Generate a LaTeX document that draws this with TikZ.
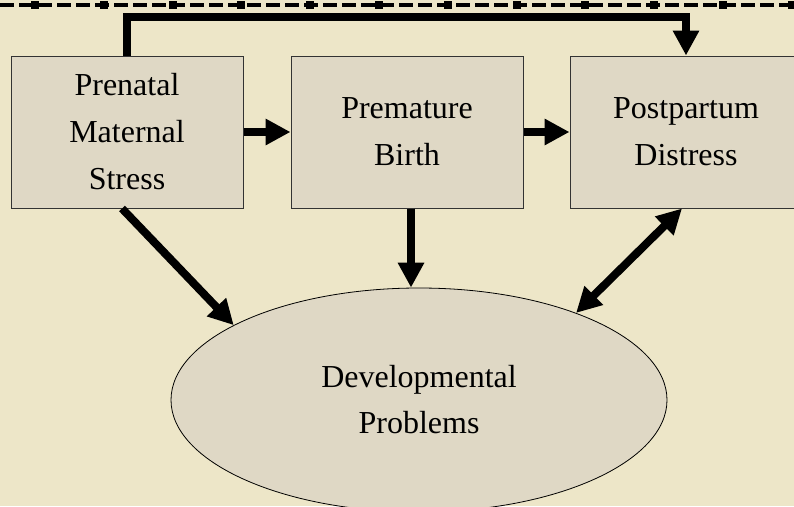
\documentclass[tikz,border=0pt]{standalone}
\usepackage{fontspec}
\setmainfont{Liberation Serif}
\usepackage{tikz}
\usetikzlibrary{arrows.meta}
\usetikzlibrary{calc}
\usetikzlibrary{shapes.geometric}
\definecolor{paper}{HTML}{EDE6C8}
\definecolor{boxfill}{HTML}{DFD8C5}
\begin{document}
\begin{tikzpicture}[
    x=1pt, y=-1pt,
    box/.style={draw=black!80, fill=boxfill, line width=1pt, minimum width=232pt, minimum height=152pt, inner sep=0pt, align=center, font=\fontsize{32}{47}\selectfont},
    oval/.style={ellipse, draw=black, fill=boxfill, line width=0.8pt, minimum width=496pt, minimum height=224pt, inner sep=0pt, align=center, font=\fontsize{32}{46}\selectfont},
    fat arrow/.style={line width=8pt, -{Triangle[length=25pt, width=25pt]}},
    fat both/.style={line width=8pt, {Triangle[length=25pt, width=25pt]}-{Triangle[length=25pt, width=25pt]}},
    dashed rule/.style={line width=3.5pt, dash pattern=on 14pt off 5pt},
    stud/.style={fill=black, minimum size=8pt, inner sep=0pt}
    ]

    % page
    \fill[paper] (0,0) rectangle (794,506);
    \useasboundingbox (0,0) rectangle (794,506);
    % top rule
    \draw[dashed rule] (0,5) -- (794,5);
    \foreach \i in {0,...,11}
        \node[stud] at ({35+68.8*\i},5) {};
    % boxes
    \node[box] (pms) at (127,132) {Prenatal\\Maternal\\Stress};
    \node[box] (pb) at (407,132) {Premature\\Birth};
    \node[box] (pd) at (686,132) {Postpartum\\Distress};
    \node[oval] (dev) at (419,400) {Developmental\\Problems};
    % arrows
    \draw[fat arrow] (pms) -- (pb);
    \draw[fat arrow] (pb) -- (pd);
    \draw[fat arrow] (pms.north) -- ++(0,-39) -| (pd.north);
    \draw[fat arrow] ([xshift=-5pt]pms.south) -- (dev.158);
    \draw[fat arrow] ([xshift=4pt]pb.south) -- ([xshift=4pt]pb.south |- dev.north);
    \draw[fat both] ([xshift=-4pt]pd.south) -- (dev.29);

\end{tikzpicture}
\end{document}
